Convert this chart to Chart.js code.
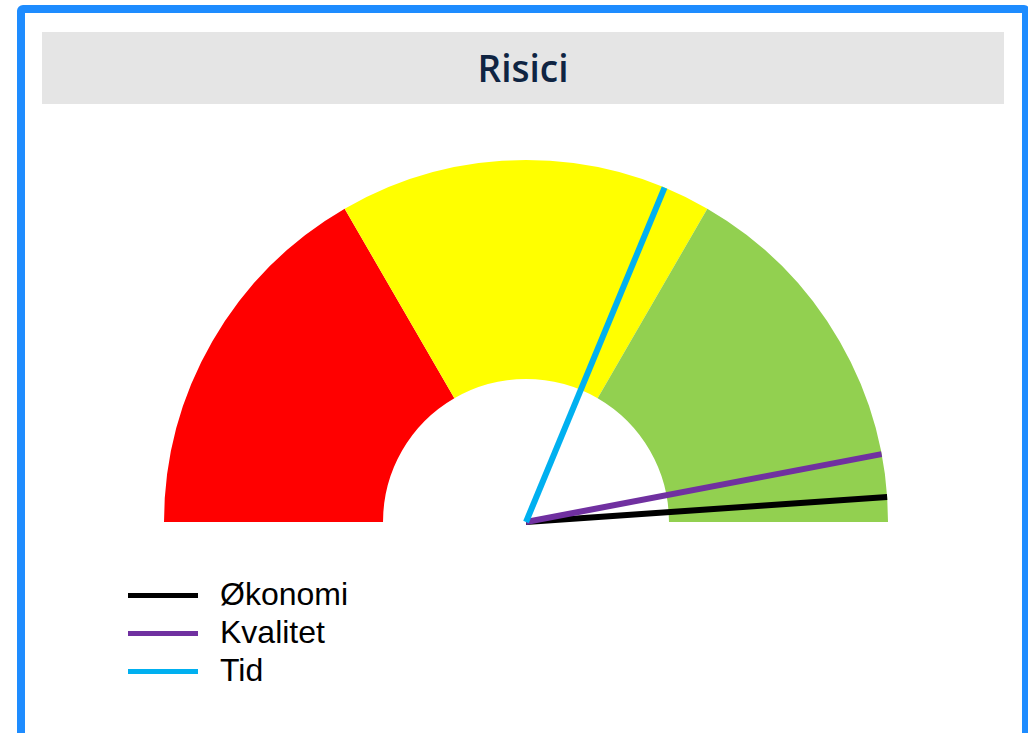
<!DOCTYPE html>
<html lang="da">
<head>
	<meta charset="utf-8">
	<title>Risici</title>
	<script src="https://cdn.jsdelivr.net/npm/chart.js@4.4.1/dist/chart.umd.min.js"></script>
	<style>
		html, body { margin: 0; padding: 0; background: #fff; overflow: hidden; }
		#frame {
			position: absolute; left: 17px; top: 5px; width: 1013px; height: 760px;
			border: 8px solid #1e8cff; border-radius: 6px; box-sizing: border-box;
		}
		#titleBar {
			position: absolute; left: 42px; top: 32px; width: 962px; height: 72px;
			background: #e5e5e5; color: #0f2442; text-align: center;
			font-family: "Open Sans", sans-serif; font-weight: 600; font-size: 37px; line-height: 72px;
		}
		#gaugeWrap { position: absolute; left: 154px; top: 150px; width: 744px; height: 382px; }
		#legend { position: absolute; left: 128px; top: 575px; font-family: "Liberation Sans", Arial, sans-serif; font-size: 32px; color: #000; }
		.item { height: 38px; line-height: 38px; white-space: nowrap; }
		.item span.line { display: inline-block; width: 70px; height: 5px; vertical-align: middle; margin-right: 22px; position: relative; top: -1px; }
	</style>
</head>
<body>
	<div id="frame"></div>
	<div id="titleBar">Risici</div>
	<div id="gaugeWrap"><canvas id="gauge"></canvas></div>
	<div id="legend"></div>
	<script>
  // gauge bands (0-100 scale)
  var segmentLabels = ['Rød', 'Gul', 'Grøn'];
  var segmentValues = [33.3, 33.4, 33.3];
  var segmentColors = ['#ff0000', '#ffff00', '#92d050'];

  // needles
  var needleLabels = ['Økonomi', 'Kvalitet', 'Tid'];
  var needleValues = [97.8, 94, 62.5];
  var needleColors = ['#000000', '#7030a0', '#00b0f0'];

  var gaugeMax = 100;

  var needlePlugin = {
  	id: 'needles',
  	afterDatasetsDraw: function(chart) {
  		var meta = chart.getDatasetMeta(0);
  		var first = meta.data[0];
  		var last = meta.data[meta.data.length - 1];
  		var cx = first.x, cy = first.y, r = first.outerRadius;
  		var start = first.startAngle, end = last.endAngle;
  		var ctx = chart.ctx;
  		ctx.save();
  		ctx.lineWidth = 6;
  		ctx.lineCap = 'butt';
  		for (var i = 0; i < needleValues.length; i++) {
  			var a = start + (needleValues[i] / gaugeMax) * (end - start);
  			ctx.strokeStyle = needleColors[i];
  			ctx.beginPath();
  			ctx.moveTo(cx, cy);
  			ctx.lineTo(cx + Math.cos(a) * r, cy + Math.sin(a) * r);
  			ctx.stroke();
  		}
  		ctx.restore();
  	}
  };

  new Chart(document.getElementById('gauge'), {
  	type: 'doughnut',
  	data: {
  		labels: segmentLabels,
  		datasets: [{
  			data: segmentValues,
  			backgroundColor: segmentColors,
  			borderWidth: 0
  		}]
  	},
  	options: {
  		responsive: true,
  		maintainAspectRatio: false,
  		animation: false,
  		rotation: -90,
  		circumference: 180,
  		cutout: '39.5%',
  		layout: { padding: 10 },
  		plugins: {
  			legend: { display: false },
  			tooltip: { enabled: false }
  		}
  	},
  	plugins: [needlePlugin]
  });

  var legend = document.getElementById('legend');
  for (var i = 0; i < needleLabels.length; i++) {
  	var row = document.createElement('div');
  	row.className = 'item';
  	var line = document.createElement('span');
  	line.className = 'line';
  	line.style.background = needleColors[i];
  	row.appendChild(line);
  	row.appendChild(document.createTextNode(needleLabels[i]));
  	legend.appendChild(row);
  }
	</script>
</body>
</html>
